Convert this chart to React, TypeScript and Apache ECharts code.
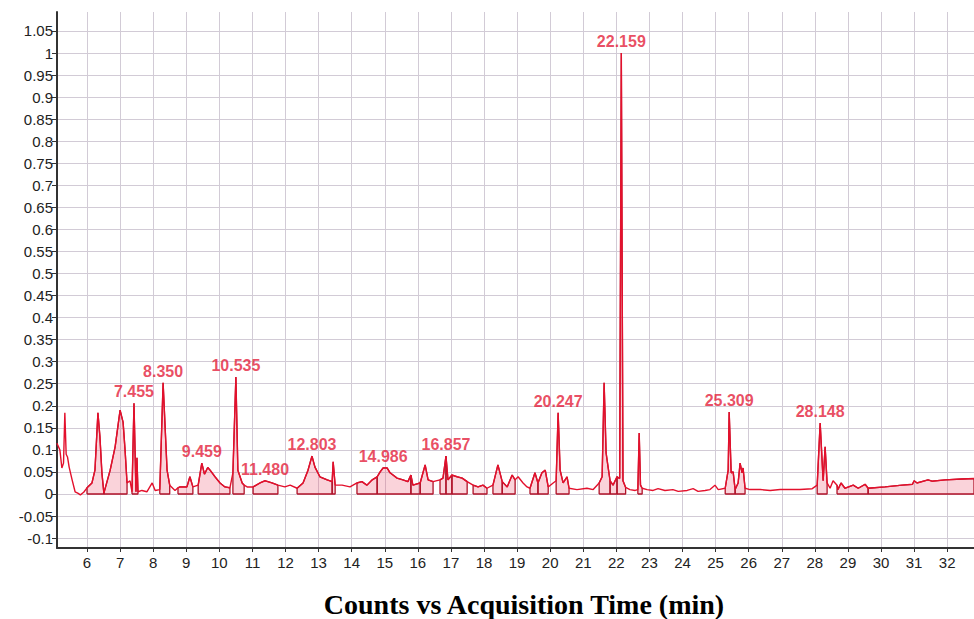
import React, { useEffect, useRef } from "react";
import * as echarts from "echarts";

// Acquisition time (min)
const times: number[] = [
  5.09, 5.18, 5.24, 5.29, 5.33, 5.37, 5.41, 5.46, 5.55, 5.64, 5.72, 5.8, 5.9,
  6.0, 6.15, 6.24, 6.33, 6.39, 6.45, 6.51, 6.7, 6.85, 7.0, 7.05, 7.09, 7.15, 7.21, 7.3,
  7.36, 7.42, 7.48, 7.51, 7.54, 7.66, 7.81, 7.97, 8.06, 8.2, 8.3, 8.42, 8.5, 8.66,
  8.75, 8.81, 9.02, 9.11, 9.2, 9.36, 9.47, 9.55, 9.65, 9.72, 9.87, 10.02, 10.17, 10.32,
  10.41, 10.5, 10.56, 10.69, 10.75, 10.84, 11.02, 11.23, 11.38, 11.59, 11.77, 11.98,
  12.14, 12.35, 12.53, 12.68, 12.8, 12.89, 13.04, 13.26, 13.41, 13.44, 13.5, 13.71,
  13.95, 14.16, 14.31, 14.46, 14.62, 14.77, 14.86, 14.95, 15.07, 15.16, 15.37, 15.55,
  15.7, 15.79, 15.85, 16.07, 16.22, 16.31, 16.46, 16.67, 16.76, 16.85, 16.91, 17.03,
  17.19, 17.34, 17.49, 17.67, 17.82, 17.97, 18.09, 18.27, 18.42, 18.55, 18.7, 18.85,
  18.94, 19.03, 19.18, 19.3, 19.39, 19.54, 19.63, 19.75, 19.85, 19.94, 20.09, 20.18,
  20.24, 20.3, 20.39, 20.51, 20.57, 20.81, 21.11, 21.3, 21.48, 21.57, 21.63, 21.69,
  21.75, 21.81, 21.9, 22.02, 22.1, 22.15, 22.2, 22.28, 22.41, 22.57, 22.65, 22.69,
  22.73, 22.78, 22.93, 23.11, 23.26, 23.47, 23.71, 23.87, 24.14, 24.32, 24.47, 24.68,
  24.83, 24.98, 25.08, 25.29, 25.38, 25.41, 25.47, 25.53, 25.59, 25.68, 25.74, 25.8,
  25.83, 25.89, 26.04, 26.35, 26.65, 26.95, 27.25, 27.55, 27.92, 28.07, 28.16, 28.25,
  28.31, 28.37, 28.46, 28.55, 28.67, 28.7, 28.79, 28.91, 29.16, 29.31, 29.52, 29.61,
  30.12, 30.64, 30.95, 31.0, 31.09, 31.42, 31.54, 31.94, 32.45, 32.81,
];

// Normalised counts
const counts: number[] = [
  0.115, 0.1, 0.059, 0.07, 0.184, 0.09, 0.084, 0.061, 0.032, 0.005, 0.002, -0.002, 0.004,
  0.014, 0.025, 0.054, 0.184, 0.13, 0.048, 0.002, 0.054, 0.107, 0.19, 0.175, 0.163, 0.1, 0.025, 0.03,
  0.005, 0.206, 0.005, 0.082, 0.005, 0.008, 0.005, 0.025, 0.008, 0.01, 0.252, 0.054, 0.02, 0.008,
  0.014, 0.016, 0.016, 0.039, 0.016, 0.02, 0.07, 0.045, 0.06, 0.054, 0.039, 0.025, 0.016, 0.014,
  0.048, 0.265, 0.054, 0.025, 0.02, 0.016, 0.016, 0.025, 0.03, 0.025, 0.02, 0.016,
  0.02, 0.013, 0.025, 0.054, 0.086, 0.061, 0.039, 0.032, 0.028, 0.073, 0.02, 0.02,
  0.016, 0.025, 0.028, 0.02, 0.032, 0.039, 0.05, 0.059, 0.059, 0.048, 0.036, 0.032,
  0.028, 0.043, 0.02, 0.025, 0.066, 0.032, 0.028, 0.032, 0.036, 0.086, 0.032, 0.043,
  0.039, 0.036, 0.028, 0.02, 0.016, 0.02, 0.013, 0.02, 0.066, 0.028, 0.016, 0.043,
  0.032, 0.039, 0.025, 0.016, 0.013, 0.048, 0.025, 0.048, 0.054, 0.016, 0.025, 0.03,
  0.184, 0.054, 0.025, 0.039, 0.013, 0.01, 0.013, 0.01, 0.025, 0.039, 0.252, 0.093,
  0.061, 0.03, 0.02, 0.039, 0.035, 1.0, 0.03, 0.015, 0.01, 0.008, 0.01, 0.138,
  0.02, 0.013, 0.01, 0.008, 0.012, 0.008, 0.01, 0.006, 0.008, 0.012, 0.006, 0.008,
  0.01, 0.02, 0.01, 0.013, 0.054, 0.186, 0.048, 0.05, 0.01, 0.025, 0.07, 0.048,
  0.059, 0.013, 0.01, 0.01, 0.008, 0.01, 0.01, 0.01, 0.012, 0.02, 0.161, 0.03,
  0.107, 0.025, 0.013, 0.03, 0.02, 0.01, 0.025, 0.013, 0.02, 0.013, 0.022, 0.013,
  0.016, 0.02, 0.022, 0.03, 0.025, 0.032, 0.029, 0.032, 0.034, 0.035,
];

// Integrated peak regions [start, end] (min)
const integrationStarts: number[] = [
  6.0, 6.51, 7.36, 8.2, 8.75, 9.36, 10.41, 11.02, 12.35, 13.41, 14.16, 14.77, 15.79, 16.07,
  16.67, 16.85, 17.03, 17.67, 18.27, 18.55, 19.39, 19.63, 20.18, 21.48, 21.81, 22.02,
  22.65, 25.29, 25.59, 28.07, 28.67, 29.61,
];
const integrationEnds: number[] = [
  6.51, 7.21, 7.54, 8.5, 9.2, 10.32, 10.75, 11.77, 13.41, 13.5, 14.77, 15.79, 16.07, 16.46,
  16.85, 17.03, 17.49, 18.09, 18.55, 18.94, 19.63, 19.94, 20.57, 21.81, 22.02, 22.28,
  22.78, 25.59, 25.89, 28.37, 29.61, 32.81,
];

// Labelled peaks
const peakTimes: number[] = [7.42, 8.3, 9.47, 10.5, 11.38, 12.8, 14.95, 16.85, 20.24, 22.15, 25.41, 28.16];
const peakValues: number[] = [0.206, 0.252, 0.07, 0.265, 0.03, 0.086, 0.059, 0.086, 0.184, 1.0, 0.186, 0.161];
const peakLabels: string[] = [
  "7.455", "8.350", "9.459", "10.535", "11.480", "12.803", "14.986", "16.857", "20.247",
  "22.159", "25.309", "28.148",
];

const xTicks: number[] = [6, 7, 8, 9, 10, 11, 12, 13, 14, 15, 16, 17, 18, 19, 20, 21, 22, 23, 24, 25, 26, 27, 28, 29, 30, 31, 32];
const yTicks: number[] = [
  -0.1, -0.05, 0, 0.05, 0.1, 0.15, 0.2, 0.25, 0.3, 0.35, 0.4, 0.45, 0.5, 0.55, 0.6, 0.65,
  0.7, 0.75, 0.8, 0.85, 0.9, 0.95, 1, 1.05,
];

const axisTitle = "Counts vs Acquisition Time (min)";

const LINE_RED = "#e3102c";

export default function App() {
  const ref = useRef<HTMLDivElement>(null);

  useEffect(() => {
    if (!ref.current) return;
    const chart = echarts.init(ref.current, null, { renderer: "svg" });

    const signal = times.map((t, i) => [t, counts[i]]);

    const fillSeries = integrationStarts.map((s, k) => {
      const e = integrationEnds[k];
      const pts = signal.filter((p) => p[0] >= s - 1e-9 && p[0] <= e + 1e-9);
      const first = pts[0][0];
      const last = pts[pts.length - 1][0];
      return {
        type: "line",
        data: [[first, 0], ...pts, [last, 0], [first, 0]],
        showSymbol: false,
        symbol: "none",
        silent: true,
        z: 2,
        lineStyle: { color: "#b01229", width: 1.3 },
        areaStyle: { color: "rgba(236, 80, 108, 0.36)", origin: 0 },
      };
    });

    const option: any = {
      animation: false,
      grid: { left: 57, right: 0, top: 12, bottom: 71, containLabel: false },
      xAxis: {
        type: "value",
        min: 5.093,
        max: 32.81,
        axisLine: { onZero: false, lineStyle: { color: "#333", width: 2 } },
        axisTick: { show: true, customValues: xTicks, length: 4, lineStyle: { color: "#333" } },
        axisLabel: {
          customValues: xTicks,
          color: "#222",
          fontSize: 15,
          fontFamily: "Arial, 'Liberation Sans', sans-serif",
          margin: 7,
        },
        splitLine: { show: true, lineStyle: { color: "#d2cbd6", width: 1 } },
      },
      yAxis: {
        type: "value",
        min: -0.1225,
        max: 1.093,
        axisLine: { onZero: false, lineStyle: { color: "#333", width: 2 } },
        axisTick: { show: true, customValues: yTicks, length: 5, lineStyle: { color: "#333" } },
        axisLabel: {
          customValues: yTicks,
          color: "#222",
          fontSize: 15,
          fontFamily: "Arial, 'Liberation Sans', sans-serif",
          margin: 4,
          formatter: (v: number) => String(Number(v.toFixed(2))),
        },
        splitLine: { show: true, lineStyle: { color: "#d2cbd6", width: 1 } },
      },
      series: [
        ...fillSeries,
        {
          type: "line",
          data: signal,
          showSymbol: false,
          symbol: "none",
          z: 3,
          lineStyle: { color: LINE_RED, width: 1.4 },
        },
        {
          type: "scatter",
          z: 4,
          symbolSize: 1,
          itemStyle: { color: "rgba(0,0,0,0)" },
          data: peakTimes.map((t, i) => ({ value: [t, peakValues[i]], name: peakLabels[i] })),
          label: {
            show: true,
            position: "top",
            distance: 3,
            formatter: "{b}",
            color: "#e41e3a",
            fontSize: 16,
            fontWeight: "bold",
            fontFamily: "Arial, 'Liberation Sans', sans-serif",
          },
        },
      ],
      graphic: [
        {
          type: "text",
          x: 524,
          y: 604,
          style: {
            text: axisTitle,
            fill: "#000",
            fontSize: 28,
            fontWeight: "bold",
            fontFamily: "'Liberation Serif', 'Times New Roman', serif",
            textAlign: "center",
            textVerticalAlign: "middle",
            align: "center",
            verticalAlign: "middle",
          },
        },
      ],
    };

    chart.setOption(option);
    return () => chart.dispose();
  }, []);

  return (
    <div
      ref={ref}
      style={{ position: "fixed", left: 0, top: 0, width: 974, height: 619, background: "#fff" }}
    />
  );
}
